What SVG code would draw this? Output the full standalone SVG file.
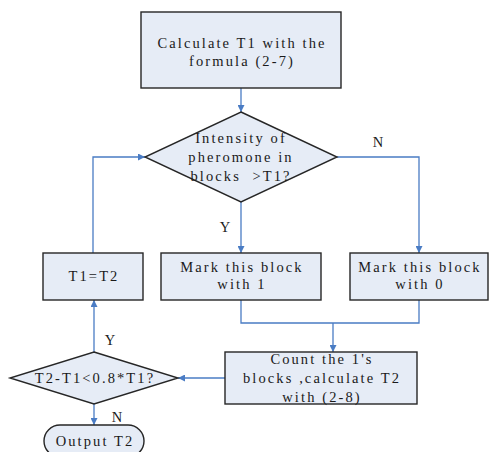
<svg xmlns="http://www.w3.org/2000/svg" width="489" height="452" viewBox="0 0 489 452">
<defs>
<marker id="ah" viewBox="0 0 10 10" refX="10" refY="5" markerWidth="7" markerHeight="7" markerUnits="userSpaceOnUse" orient="auto">
<path d="M0,0 L10,5 L0,10 z" fill="#4A7CC4"/>
</marker>
<style>
.box{fill:#E6ECF6;stroke:#262626;stroke-width:1.4}
.t{font-family:"Liberation Serif","Times New Roman",serif;font-size:14.5px;letter-spacing:2.1px;fill:#1a1a1a;text-anchor:middle}
.l{font-family:"Liberation Serif","Times New Roman",serif;font-size:14.5px;fill:#1a1a1a;text-anchor:middle}
.c{fill:none;stroke:#4A7CC4;stroke-width:1.3}
.a{marker-end:url(#ah)}
</style>
</defs>
<rect width="489" height="452" fill="#ffffff"/>
<g id="connectors">
<path class="c a" d="M241,88 V112"/>
<path class="c a" d="M241,202 V253"/>
<path class="c a" d="M337,157 H419 V253"/>
<path class="c" d="M241,300 V323 H419 V300"/>
<path class="c a" d="M333,323 V352"/>
<path class="c a" d="M225,378 H178"/>
<path class="c a" d="M94,352 V300"/>
<path class="c a" d="M93,253 V157 H145"/>
<path class="c a" d="M94,404 V425"/>
<text class="l" x="378" y="147">N</text>
<text class="l" x="225" y="232">Y</text>
<text class="l" x="110" y="345">Y</text>
<text class="l" x="117" y="422">N</text>
</g>
<g id="calcT1">
<rect class="box" x="141" y="12" width="200" height="76"/>
<text class="t" x="242" y="48">Calculate T1 with the</text>
<text class="t" x="242" y="66">formula (2-7)</text>
</g>
<g id="intensity">
<polygon class="box" points="241,112 337,157 241,202 145,157"/>
<text class="t" x="241" y="143">Intensity of</text>
<text class="t" x="241" y="162">pheromone in</text>
<text class="t" x="241" y="181" xml:space="preserve">blocks  &gt;T1?</text>
</g>
<g id="t1t2">
<rect class="box" x="43" y="253" width="100" height="47"/>
<text class="t" x="94" y="281">T1=T2</text>
</g>
<g id="mark1">
<rect class="box" x="161" y="253" width="160" height="47"/>
<text class="t" x="242" y="272">Mark this block</text>
<text class="t" x="242" y="289">with 1</text>
</g>
<g id="mark0">
<rect class="box" x="350" y="253" width="138" height="47"/>
<text class="t" x="420" y="272">Mark this block</text>
<text class="t" x="420" y="289">with 0</text>
</g>
<g id="count">
<rect class="box" x="225" y="352" width="192" height="52"/>
<text class="t" x="322" y="364">Count the 1's</text>
<text class="t" x="322" y="383">blocks ,calculate T2</text>
<text class="t" x="322" y="402">with (2-8)</text>
</g>
<g id="check">
<polygon class="box" points="94,352 178,378 94,404 10,378"/>
<text class="t" x="95" y="383">T2-T1&lt;0.8*T1?</text>
</g>
<g id="output">
<rect class="box" x="44" y="425" width="100" height="32" rx="16" ry="16"/>
<text class="t" x="95" y="446">Output T2</text>
</g>
</svg>
